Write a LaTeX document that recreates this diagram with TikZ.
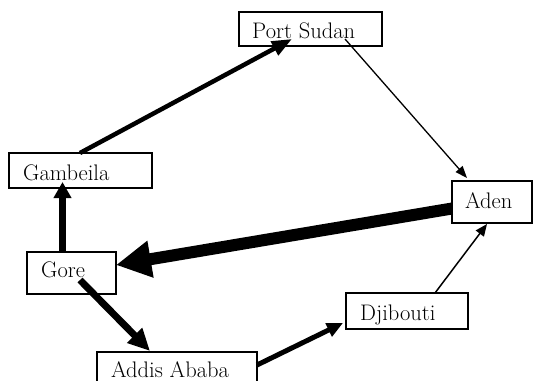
\documentclass[tikz,border=0pt]{standalone}
\usetikzlibrary{arrows.meta,calc}
\tikzset{
  box/.style={draw=black, line width=1.3pt, inner sep=0pt, outer sep=0pt, anchor=north west},
  lbl/.style={inner sep=0pt, anchor=base west, font=\fontsize{22.5}{26}\selectfont},
  conn/.style={draw=black, line cap=butt},
}
\begin{document}
\begin{tikzpicture}[x=1pt, y=-1pt]
\clip (0,0) rectangle (535,380);
% boxes
\node[box, minimum width=143pt, minimum height=34pt] (ps) at (239,12) {};
\node[box, minimum width=143pt, minimum height=35pt] (gam) at (9,153) {};
\node[box, minimum width=80pt, minimum height=42pt] (aden) at (452,181) {};
\node[box, minimum width=89pt, minimum height=42pt] (gore) at (27,252) {};
\node[box, minimum width=160pt, minimum height=40pt] (addis) at (97,352) {};
\node[box, minimum width=122pt, minimum height=36pt] (dji) at (346,293) {};
% labels
\node[lbl] (pst) at (252,38) {Port Sudan};
\node[lbl] (gamt) at (23,180) {Gambeila};
\node[lbl] (adent) at (465,208) {Aden};
\node[lbl] (goret) at (41,277) {Gore};
\node[lbl] (addist) at (111,377) {Addis Ababa};
\node[lbl] (djit) at (360,320) {Djibouti};
% connectors
\draw[conn, line width=4.5pt, -{Triangle[length=20pt,width=15pt]}]
  ($(gam.north west)+(71,0)$) -- ($(ps.south west)+(53,-7)$);
\draw[conn, line width=1.3pt, -{Triangle[length=12pt,width=9pt]}]
  ($(ps.south west)+(106,-7)$) -- ($(aden.north west)+(15,-3)$);
\draw[conn, line width=12pt, -{Triangle[length=35pt,width=35pt]}]
  ($(aden.north west)+(0,27.5)$) -- ($(gore.north east)+(0,13)$);
\draw[conn, line width=6.5pt, -{Triangle[length=16pt,width=17pt]}]
  ($(gore.north west)+(35.5,0)$) -- ($(gam.south west)+(53.5,-6)$);
\draw[conn, line width=7pt, -{Triangle[length=22pt,width=20pt]}]
  ($(gore.north west)+(53,28)$) -- ($(addis.north west)+(53,-1)$);
\draw[conn, line width=5pt, -{Triangle[length=16pt,width=14pt]}]
  ($(addis.north east)+(0,13)$) -- ($(dji.south west)+(-3,-6)$);
\draw[conn, line width=1.5pt, -{Triangle[length=12pt,width=10pt]}]
  ($(dji.north west)+(89,0)$) -- ($(aden.south west)+(35,1)$);
\end{tikzpicture}
\end{document}
